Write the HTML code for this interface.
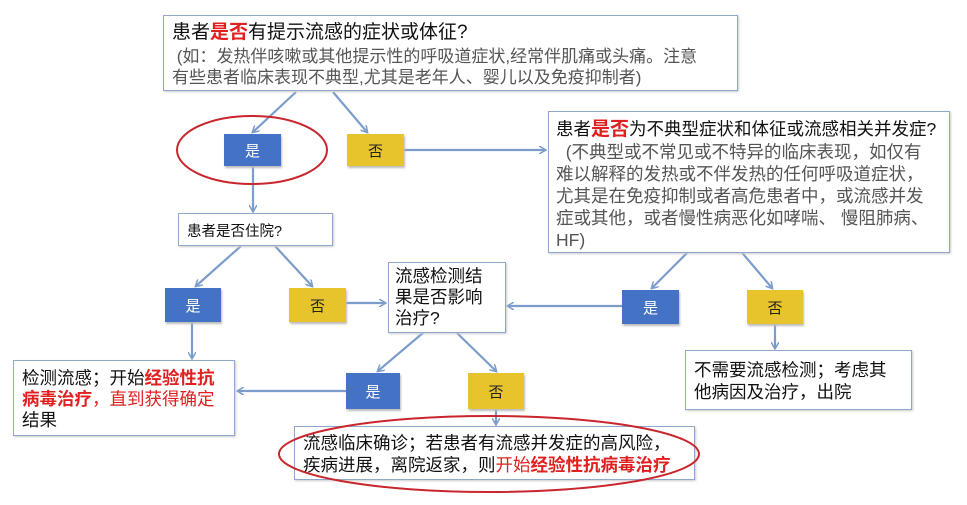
<!DOCTYPE html>
<html><head><meta charset="utf-8"><style>
body{margin:0;width:967px;height:505px;background:#fff;position:relative;overflow:hidden;font-family:"Liberation Sans","Noto Sans CJK SC",sans-serif;}
.b{position:absolute;border:1.5px solid #8fa8cc;background:#fff;box-sizing:border-box;color:#111;box-shadow:1px 1px 2px #ccc;white-space:nowrap;}
.c{position:absolute;box-sizing:border-box;display:flex;align-items:center;justify-content:center;font-size:15px;box-shadow:1px 2px 2px #bbb;}
.y{background:#e8c42c;color:#222;}
.bl{background:#4472c4;color:#fff;}
.r{color:#e02020;font-weight:bold;}
.g{color:#555;}
svg{position:absolute;left:0;top:0;}
</style></head><body>
<svg width="967" height="505">
<defs><marker id="a" markerWidth="8" markerHeight="8" refX="6" refY="4" orient="auto" markerUnits="userSpaceOnUse"><path d="M0,0 L7,4 L0,8" fill="none" stroke="#7c9ccc" stroke-width="1.5"/></marker></defs>
<g stroke="#7c9ccc" stroke-width="2.2" fill="none" marker-end="url(#a)">
<line x1="296" y1="92" x2="253" y2="132"/>
<line x1="333" y1="92" x2="367" y2="132"/>
<line x1="404" y1="150" x2="545" y2="150"/>
<line x1="253" y1="166" x2="253" y2="211"/>
<line x1="241" y1="246" x2="196" y2="286"/>
<line x1="275" y1="246" x2="312" y2="286"/>
<line x1="346" y1="303" x2="385" y2="303"/>
<line x1="622" y1="306" x2="508" y2="306"/>
<line x1="698" y1="242" x2="652" y2="288"/>
<line x1="733" y1="242" x2="772" y2="288"/>
<line x1="192" y1="322" x2="192" y2="358"/>
<line x1="775" y1="324" x2="775" y2="348"/>
<line x1="424" y1="332" x2="378" y2="371"/>
<line x1="456" y1="332" x2="496" y2="371"/>
<line x1="346" y1="391" x2="238" y2="391"/>
<line x1="496" y1="409" x2="496" y2="424"/>
</g>
</svg>
<div class="b" style="left:163px;top:15px;width:575px;height:76px;padding:4px 8px;">
<div style="font-size:19px;line-height:26px;">患者<span class="r">是否</span>有提示流感的症状或体征?</div>
<div class="g" style="font-size:17px;line-height:21px;">&nbsp;(如：发热伴咳嗽或其他提示性的呼吸道症状,经常伴肌痛或头痛。注意<br>有些患者临床表现不典型,尤其是老年人、婴儿以及免疫抑制者)</div>
</div>
<div class="b" style="left:548px;top:111px;width:402px;height:142px;padding:6px 7px;">
<div style="font-size:17.5px;line-height:22px;">患者<span class="r" style="font-size:19px">是否</span>为不典型症状和体征或流感相关并发症?</div>
<div class="g" style="font-size:17.5px;line-height:22px;">&nbsp;&nbsp;(不典型或不常见或不特异的临床表现，如仅有<br>难以解释的发热或不伴发热的任何呼吸道症状，<br>尤其是在免疫抑制或者高危患者中，或流感并发<br>症或其他，或者慢性病恶化如哮喘、 慢阻肺病、<br>HF)</div>
</div>
<div class="b" style="left:178px;top:213px;width:155px;height:33px;padding:6px 8px;font-size:14.5px;">患者是否住院?</div>
<div class="b" style="left:388px;top:262px;width:118px;height:71px;padding:3px 6px;font-size:17.5px;line-height:21px;">流感检测结<br>果是否影响<br>治疗?</div>
<div class="b" style="left:13px;top:360px;width:222px;height:76px;padding:7px 8px;font-size:17.5px;line-height:21px;">检测流感；开始<span class="r">经验性抗</span><br><span class="r">病毒治疗</span><span style="color:#e02020">，直到获得确定</span><br>结果</div>
<div class="b" style="left:685px;top:350px;width:227px;height:60px;padding:8px 8px;font-size:17.5px;line-height:22px;">不需要流感检测；考虑其<br>他病因及治疗，出院</div>
<div class="b" style="left:294px;top:426px;width:401px;height:54px;padding:5px 8px;font-size:17.5px;line-height:22px;">流感临床确诊；若患者有流感并发症的高风险，<br>疾病进展，离院返家，则<span style="color:#e02020">开始</span><span class="r">经验性抗病毒治疗</span></div>
<div class="c bl" style="left:224px;top:134px;width:57px;height:32px;">是</div>
<div class="c y" style="left:347px;top:134px;width:57px;height:32px;">否</div>
<div class="c bl" style="left:165px;top:288px;width:56px;height:34px;">是</div>
<div class="c y" style="left:289px;top:288px;width:57px;height:34px;">否</div>
<div class="c bl" style="left:622px;top:290px;width:57px;height:34px;">是</div>
<div class="c y" style="left:747px;top:290px;width:56px;height:34px;">否</div>
<div class="c bl" style="left:346px;top:373px;width:54px;height:36px;">是</div>
<div class="c y" style="left:468px;top:373px;width:56px;height:36px;">否</div>
<svg width="967" height="505" style="pointer-events:none">
<ellipse cx="252" cy="150" rx="75" ry="34" fill="none" stroke="#c8262c" stroke-width="2"/>
<ellipse cx="489" cy="454" rx="210" ry="38" fill="none" stroke="#c8262c" stroke-width="2"/>
</svg>
</body></html>
